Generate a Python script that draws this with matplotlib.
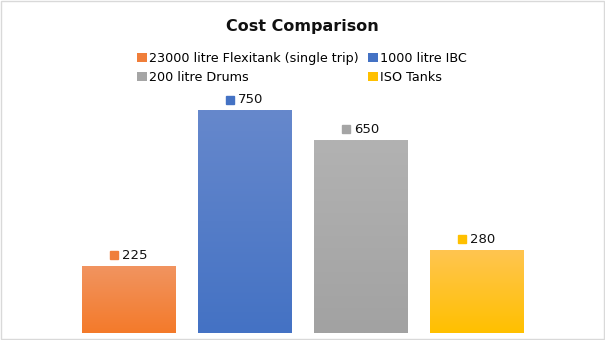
import numpy as np
import matplotlib
matplotlib.use('Agg')
import matplotlib.pyplot as plt
from matplotlib.patches import Patch, Rectangle
from matplotlib.colors import to_rgb
import matplotlib.transforms as mtransforms

# data
categories = ['23000 litre Flexitank (single trip)', '1000 litre IBC',
              '200 litre Drums', 'ISO Tanks']
costs = [225, 750, 650, 280]

# (top colour, bottom colour) for the gradient fill
colours = [('#F19460', '#F47A2A'),
           ('#6688CC', '#4472C4'),
           ('#B2B2B2', '#A2A2A2'),
           ('#FFC550', '#FFC000')]
marker_cols = ['#F07E3A', '#4472C4', '#A5A5A5', '#FFC000']

fig = plt.figure(figsize=(6.05, 3.4), dpi=100)
ax = fig.add_axes([71/605, 7/340, 464/605, 237/340])

x = np.arange(len(costs))
bars = ax.bar(x, costs, width=0.81, color='none', edgecolor='none')
ax.axis('off')

# gradient fill for each bar
for b, (top, bot) in zip(bars, colours):
    t = np.array(to_rgb(top))
    bt = np.array(to_rgb(bot))
    f = np.linspace(0, 1, 100)[:, None]
    img = (t * (1 - f) + bt * f)[:, None, :]
    x0, y0 = b.get_x(), b.get_y()
    ax.imshow(img, extent=[x0, x0 + b.get_width(), y0, y0 + b.get_height()],
              aspect='auto', origin='upper', zorder=2, interpolation='bilinear')
ax.set_xlim(-0.5, len(costs) - 0.5)
ax.set_ylim(0, 800)

# data labels with small coloured squares
for xi, v, mc in zip(x, costs, marker_cols):
    tr_sq = mtransforms.offset_copy(ax.transData, fig=fig, x=-15, y=11, units='dots')
    ax.plot([xi], [v], marker='s', ms=6, color=mc, transform=tr_sq, clip_on=False)
    ax.annotate(str(v), xy=(xi, v), xytext=(-7, 11), textcoords='offset pixels',
                ha='left', va='center', fontsize=9.5, color='#111111')

fig.text(0.5, 1 - 26/340, 'Cost Comparison', ha='center', va='center',
         fontsize=11.5, fontweight='bold', color='#111111')

# legend fills column-wise, so reorder to get row-wise layout
order = [0, 2, 1, 3]
handles = [Patch(facecolor=marker_cols[i], edgecolor='none') for i in order]
labels = [categories[i] for i in order]
fig.legend(handles, labels, ncol=2, loc='center', bbox_to_anchor=(0.499, 1 - 68/340),
           frameon=False, fontsize=9.2, handlelength=0.75, handleheight=0.75,
           handletextpad=0.15, columnspacing=0.8, labelspacing=0.45)

fig.patches.append(Rectangle((0.001, 0.002), 0.997, 0.995, transform=fig.transFigure,
                             fill=False, edgecolor='#D9D9D9', lw=1))

fig.savefig('out.png', dpi=100)
